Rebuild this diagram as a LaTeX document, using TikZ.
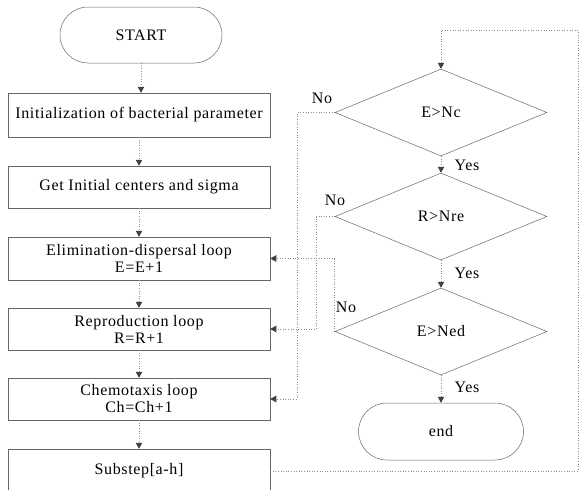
\documentclass[tikz,border=0pt]{standalone}
\usepackage{fontspec}
\setmainfont{Liberation Serif}[LetterSpace=4.0]
\usetikzlibrary{arrows.meta,shapes.geometric,shapes.misc}
\begin{document}
\begin{tikzpicture}[x=1pt,y=-1pt,
  every node/.style={font=\fontsize{16}{17}\selectfont, text=black},
  box/.style={draw=black!60, line width=0.5pt, minimum width=262pt, inner sep=0pt, align=center},
  term/.style={draw=black!60, line width=0.5pt, rounded rectangle, minimum width=162pt, minimum height=56pt, inner sep=0pt},
  dec/.style={draw=black!60, line width=0.5pt, diamond, aspect=2.44, minimum width=212pt, minimum height=87pt, inner sep=0pt},
  conn/.style={draw=black!45, dotted, line width=0.6pt, -{Triangle[width=6.5pt,length=6pt,fill=black!75,color=black!75]}},
  lbl/.style={inner sep=0pt}
]
\useasboundingbox (0,0) rectangle (579,490);

% left column
\node[term] (start) at (141,35) {START};
\node[box, minimum height=44pt] (b1) at (139,115) {Initialization of bacterial parameter};
\node[box, minimum height=42pt] (b2) at (139,187) {Get Initial centers and sigma};
\node[box, minimum height=43pt] (b3) at (139,258.5) {Elimination-dispersal loop\\E=E+1};
\node[box, minimum height=42pt] (b4) at (139,329) {Reproduction loop\\R=R+1};
\node[box, minimum height=42pt] (b5) at (139,399) {Chemotaxis loop\\Ch=Ch+1};
\node[box, minimum height=44pt] (b6) at (139,471) {Substep[a-h]};

% right column
\node[dec] (d1) at (441,112.5) {E>Nc};
\node[dec] (d2) at (441,216.5) {R>Nre};
\node[dec] (d3) at (441,331.5) {E>Ned};
\node[term, minimum width=165pt, minimum height=57pt] (fin) at (441,431.5) {end};

% labels
\node[lbl] (no1) at (322,98) {No};
\node[lbl] (no2) at (335,200) {No};
\node[lbl] (no3) at (346,307) {No};
\node[lbl] (yes1) at (467,165) {Yes};
\node[lbl] (yes2) at (467,273) {Yes};
\node[lbl] (yes3) at (467,387) {Yes};

% junction coordinates
\coordinate (j1) at (297,0);
\coordinate (j2) at (316,0);
\coordinate (j3) at (578,30);

% main flow
\draw[conn] (start.south) -- (start.south |- b1.north);
\draw[conn] (b1) -- (b2);
\draw[conn] (b2) -- (b3);
\draw[conn] (b3) -- (b4);
\draw[conn] (b4) -- (b5);
\draw[conn] (b5) -- (b6);
\draw[conn] (b6.east) -| (j3) -| (d1.north);
\draw[conn] (d1) -- (d2);
\draw[conn] (d2) -- (d3);
\draw[conn] (d3) -- (fin);

% No loops
\draw[conn] (d1.west) -- (d1.west -| j1) |- (b5.east);
\draw[conn] (d2.west) -- (d2.west -| j2) |- (b4.east);
\draw[conn] (d3.west) |- (b3.east);
\end{tikzpicture}
\end{document}
